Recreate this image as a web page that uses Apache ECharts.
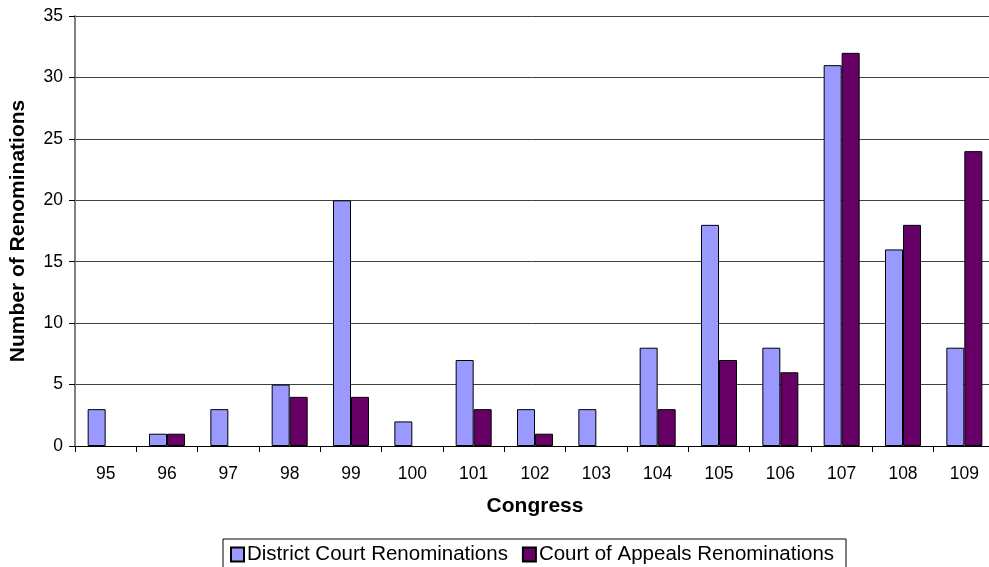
<!DOCTYPE html>
<html>
<head>
<meta charset="utf-8">
<script src="https://cdn.jsdelivr.net/npm/echarts@6/dist/echarts.min.js"></script>
<style>
html, body { margin: 0; padding: 0; background: #fff; }
#chart { width: 989px; height: 567px; }
</style>
</head>
<body>
<div id="chart"></div>
<script>
const congresses = ["95", "96", "97", "98", "99", "100", "101", "102", "103", "104", "105", "106", "107", "108", "109"]
const districtRenoms = [3, 1, 3, 5, 20, 2, 7, 3, 3, 8, 18, 8, 31, 16, 8]
const appealsRenoms = [0, 1, 0, 4, 4, 0, 3, 1, 0, 3, 7, 6, 32, 18, 24]

const font = "Liberation Sans, Arial, sans-serif"
// zero counts draw no bar at all
const noZero = arr => arr.map(v => (v === 0 ? "-" : v))

const chart = echarts.init(document.getElementById("chart"))

chart.setOption({
	animation: false,
	textStyle: { fontFamily: font },
	grid: { left: 75, top: 16, right: -6, bottom: 121, outerBoundsMode: "none", containLabel: false },
	legend: {
		bottom: -6,
		left: 223,
		itemGap: 14,
		itemWidth: 13,
		itemHeight: 14,
		padding: [5, 12, 8, 7],
		borderColor: "#000",
		borderWidth: 1,
		borderRadius: 0,
		textStyle: { fontFamily: font, fontSize: 20.5, color: "#000", padding: [0, 0, 0, -2] },
		data: [
			{ name: "District Court Renominations", icon: "rect" },
			{ name: "Court of Appeals Renominations", icon: "rect" },
		],
	},
	xAxis: {
		type: "category",
		data: congresses,
		name: "Congress",
		nameLocation: "middle",
		nameGap: 50,
		nameTextStyle: { fontFamily: font, fontSize: 21, fontWeight: "bold", color: "#000" },
		axisLine: { lineStyle: { color: "#000", width: 1 } },
		axisTick: { show: true, length: 6, alignWithLabel: false, lineStyle: { color: "#000" } },
		axisLabel: { fontFamily: font, fontSize: 17.5, color: "#000", margin: 19 },
	},
	yAxis: {
		type: "value",
		min: 0,
		max: 35,
		interval: 5,
		name: "Number of Renominations",
		nameLocation: "middle",
		nameGap: 46,
		nameTextStyle: { fontFamily: font, fontSize: 21, fontWeight: "bold", color: "#000" },
		axisLine: { show: true, lineStyle: { color: "#808080", width: 2 } },
		axisTick: { show: true, length: 6, lineStyle: { color: "#000" } },
		axisLabel: { fontFamily: font, fontSize: 17.5, color: "#000", margin: 12 },
		splitLine: { show: true, lineStyle: { color: "#404040", width: 1 } },
	},
	series: [
		{
			name: "District Court Renominations",
			type: "bar",
			data: noZero(districtRenoms),
			barWidth: 18,
			barGap: "0%",
			itemStyle: { color: "#9999FF", borderColor: "#000", borderWidth: 1 },
		},
		{
			name: "Court of Appeals Renominations",
			type: "bar",
			data: noZero(appealsRenoms),
			barWidth: 18,
			itemStyle: { color: "#660066", borderColor: "#000", borderWidth: 1 },
		},
	],
})
</script>
</body>
</html>
